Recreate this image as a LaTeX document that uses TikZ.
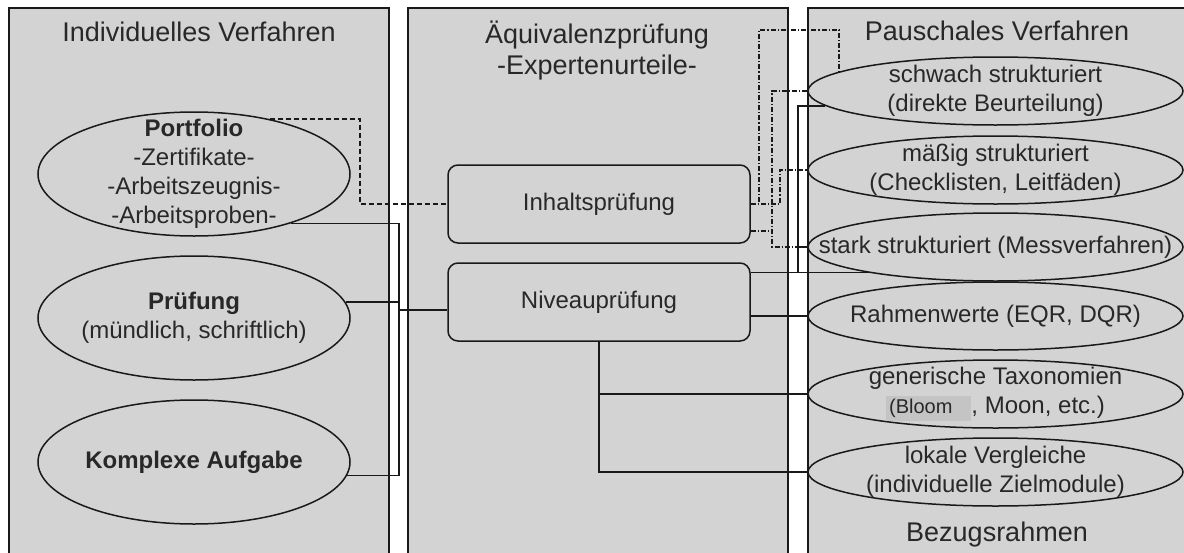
\documentclass[tikz,border=0pt]{standalone}
\usepackage{fontspec}
\setmainfont{Liberation Sans}
\usepackage{tikz}
\usepackage{xcolor}
\usetikzlibrary{shapes.geometric, positioning, calc}
\definecolor{cPanel}{RGB}{211,211,211}
\definecolor{cText}{RGB}{40,40,40}
\definecolor{cLine}{RGB}{25,25,25}
\definecolor{cBloom}{RGB}{196,196,196}
\tikzset{
    panel/.style     ={draw=cLine, fill=cPanel, line width=0.8pt},
    heading/.style   ={text=cText, font=\fontsize{13.5}{15.5}\selectfont, align=center, inner sep=0pt},
    method/.style    ={ellipse, draw=cLine, fill=cPanel, line width=0.75pt, minimum width=156pt, minimum height=62pt, inner xsep=-20pt, inner ysep=-8pt, align=center, text=cText, font=\fontsize{12}{14.5}\selectfont},
    check/.style     ={rectangle, rounded corners=5pt, draw=cLine, fill=cPanel, line width=0.75pt, minimum width=151pt, minimum height=39pt, align=center, text=cText, font=\fontsize{12}{14.5}\selectfont},
    frame/.style     ={ellipse, draw=cLine, fill=cPanel, line width=0.75pt, minimum width=187.5pt, minimum height=34pt, inner xsep=-30pt, inner ysep=-8pt, align=center, text=cText, font=\fontsize{12}{14.5}\selectfont},
    link/.style      ={draw=cLine, line width=0.75pt},
    looselink/.style ={link, dash pattern=on 2.5pt off 1.5pt},
    contentlink/.style={link, dash pattern=on 2.5pt off 1pt on 0.6pt off 1pt},
}

\begin{document}
\begin{tikzpicture}[x=0.5pt, y=-0.5pt]
    \useasboundingbox (0,0) rectangle (1184,552);
    \clip (0,0) rectangle (1184,552);
    % three columns
    \draw[panel] (9,8) rectangle (389,570);
    \draw[panel] (408,8) rectangle (788,570);
    \draw[panel] (808,8) rectangle (1192,570);
    \node[heading] (hIndiv) at (199,32) {Individuelles Verfahren};
    \node[heading] (hAequi) at (597,50) {Äquivalenzprüfung\\-Expertenurteile-};
    \node[heading] (hPausch) at (997,31) {Pauschales Verfahren};
    \node[heading] (hBezug) at (997,535) {Bezugsrahmen};
    % left column
    \node[method] (portfolio) at (194,174) {\textbf{Portfolio}\\-Zertifikate-\\-Arbeitszeugnis-\\-Arbeitsproben-};
    \node[method] (pruefung) at (194,318) {\textbf{Prüfung}\\(mündlich, schriftlich)};
    \node[method] (komplexe) at (194,462) {\textbf{Komplexe Aufgabe}};
    % middle column
    \node[check] (inhalt) at (599,204) {Inhaltsprüfung};
    \node[check] (niveau) at (599,302) {Niveauprüfung};
    % right column
    \node[frame] (schwach) at (995.5,91) {schwach strukturiert\\(direkte Beurteilung)};
    \node[frame] (maessig) at (995.5,170) {mäßig strukturiert\\(Checklisten, Leitfäden)};
    \node[frame] (stark) at (995.5,247) {stark strukturiert (Messverfahren)};
    \node[frame] (rahmen) at (995.5,316) {Rahmenwerte (EQR, DQR)};
    \node[frame] (generisch) at (995.5,394) {generische Taxonomien\\{\setlength{\fboxsep}{1.5pt}\colorbox{cBloom}{\fontsize{10}{10}\selectfont(Bloom\hspace{8pt}}}, Moon, etc.)};
    \node[frame] (lokal) at (995.5,472) {lokale Vergleiche\\(individuelle Zielmodule)};
    % helper columns for the connectors
    \coordinate (dashX) at (360,0);
    \coordinate (busL) at (399,0);
    \coordinate (ddA) at (759,30);
    \coordinate (ddB) at (772,0);
    \coordinate (ddC) at (780,0);
    \coordinate (busR) at (798,0);
    % left to middle
    \draw[looselink] (portfolio.36) -| (dashX |- inhalt.west) -- (inhalt.west);
    \draw[link] (portfolio.-27) -| (busL |- komplexe.-5) -- (komplexe.-5);
    \draw[link] (pruefung.6) -- (pruefung.6 -| busL);
    \draw[link] (busL |- niveau.183) -- (niveau.183);
    % content check to frames
    \draw[contentlink] (inhalt.east) -| (ddA) -| (schwach.173);
    \draw[contentlink] (inhalt.east) -| (ddC |- maessig.west) -- (maessig.west);
    \draw[contentlink] (inhalt.-10) -- (inhalt.-10 -| ddB);
    \draw[contentlink] (schwach.west) -| (ddB |- stark.west) -- (stark.west);
    % level check to frames
    \draw[link] (niveau.11) -- (niveau.11 -| stark.192);
    \draw[link] (niveau.11 -| busR) |- (schwach.185);
    \draw[link] (busR |- stark.west) -- (stark.west);
    \draw[link] (niveau.east |- rahmen.west) -- (rahmen.west);
    \draw[link] (niveau.south) |- (lokal.west);
    \draw[link] (niveau.south |- generisch.west) -- (generisch.west);
\end{tikzpicture}
\end{document}
